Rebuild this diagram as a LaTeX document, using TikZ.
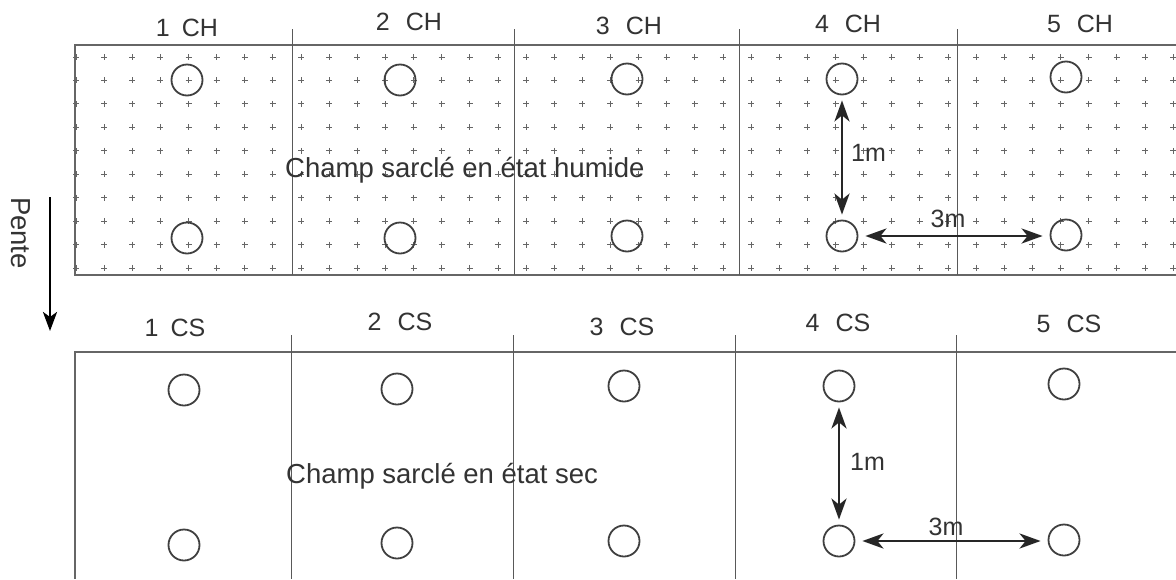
\documentclass[tikz,border=0pt]{standalone}
\usepackage{fontspec}
\setmainfont{Liberation Sans}
\usetikzlibrary{arrows.meta}
\begin{document}
\begin{tikzpicture}[x=1pt,y=-1pt,
  lbl/.style={font=\fontsize{25}{28}\selectfont, text=black!80, inner sep=0pt},
  big/.style={font=\fontsize{27.5}{30}\selectfont, text=black!80, inner sep=0pt},
  hole/.style={circle, draw=black!75, line width=1.8pt, minimum size=31pt, inner sep=0pt},
  frame/.style={draw=black!60, line width=1.8pt},
  divider/.style={draw=black!65, line width=1pt},
  dimarrow/.style={{Stealth[length=21pt,width=15pt,inset=6pt]}-{Stealth[length=21pt,width=15pt,inset=6pt]}, line width=2.8pt, draw=black!85},
  plusmark/.style={draw=black!60, line width=0.9pt}
]
\useasboundingbox (0,0) rectangle (1176,579);
\fill[white] (0,0) rectangle (1176,579);

% dotted (plus) pattern of the wet field
\foreach \i in {0,...,39} {
  \foreach \j in {0,...,9} {
    \pgfmathsetmacro\px{76+28.13*\i}
    \pgfmathsetmacro\py{57+23.44*\j}
    \draw[plusmark] (\px-3,\py) -- (\px+3,\py) (\px,\py-3) -- (\px,\py+3);
  }
}

% top field
\draw[frame] (1176,45) -- (75,45) -- (75,275) -- (1176,275);
\foreach \x in {292,514,739,957} \draw[divider] (\x,29) -- (\x,275);

% bottom field
\draw[frame] (1176,352) -- (75,352) -- (75,579);
\foreach \x in {291,513,735,956} \draw[divider] (\x,335) -- (\x,579);

% labels top
\node[lbl] (l1) at (187,28) {1\hspace{12pt}CH};
\node[lbl] (l2) at (409,22) {2\hspace{16pt}CH};
\node[lbl] (l3) at (629,26) {3\hspace{16pt}CH};
\node[lbl] (l4) at (848,24) {4\hspace{16pt}CH};
\node[lbl] (l5) at (1080,24) {5\hspace{16pt}CH};
% labels bottom
\node[lbl] (m1) at (175,328) {1\hspace{12pt}CS};
\node[lbl] (m2) at (400,322) {2\hspace{16pt}CS};
\node[lbl] (m3) at (622,327) {3\hspace{16pt}CS};
\node[lbl] (m4) at (838,323) {4\hspace{16pt}CS};
\node[lbl] (m5) at (1069,324) {5\hspace{16pt}CS};

% holes top field
\node[hole] (ta1) at (187,80) {};
\node[hole] (ta2) at (400,80) {};
\node[hole] (ta3) at (627,79) {};
\node[hole] (ta4) at (842,79) {};
\node[hole] (ta5) at (1066,77) {};
\node[hole] (tb1) at (187,238) {};
\node[hole] (tb2) at (400,238) {};
\node[hole] (tb3) at (627,236) {};
\node[hole] (tb4) at (842,236) {};
\node[hole] (tb5) at (1066,235) {};
% holes bottom field
\node[hole] (ba1) at (184,390) {};
\node[hole] (ba2) at (397,389) {};
\node[hole] (ba3) at (624,386) {};
\node[hole] (ba4) at (839,386) {};
\node[hole] (ba5) at (1064,384) {};
\node[hole] (bb1) at (184,545) {};
\node[hole] (bb2) at (397,543) {};
\node[hole] (bb3) at (624,541) {};
\node[hole] (bb4) at (839,541) {};
\node[hole] (bb5) at (1064,540) {};

% field texts
\node[big, anchor=base west] (th) at (285,177) {Champ sarclé en état humide};
\node[big, anchor=base west] (ts) at (286,483) {Champ sarclé en état sec};

% dimensions top
\draw[dimarrow, shorten <=5pt, shorten >=5pt] (ta4) -- (tb4);
\draw[dimarrow, shorten <=7pt, shorten >=7pt] (tb4.east) -- (tb4.east -| tb5.west);
\node[lbl, anchor=west] (d1) at (851,153) {1m};
\node[lbl] (d3) at (948,219) {3m};

% dimensions bottom
\draw[dimarrow, shorten <=5pt, shorten >=5pt] (ba4) -- (bb4);
\draw[dimarrow, shorten <=7pt, shorten >=7pt] (bb4.east) -- (bb4.east -| bb5.west);
\node[lbl, anchor=west] (e1) at (850,462) {1m};
\node[lbl] (e3) at (946,527) {3m};

% slope
\node[big, rotate=-90] (pente) at (21,233) {Pente};
\coordinate (p1) at (50,197);
\coordinate (p2) at (50,331);
\draw[-{Stealth[length=19pt,width=14pt,inset=5pt]}, line width=2.8pt, draw=black] (p1) -- (p2);
\end{tikzpicture}
\end{document}
